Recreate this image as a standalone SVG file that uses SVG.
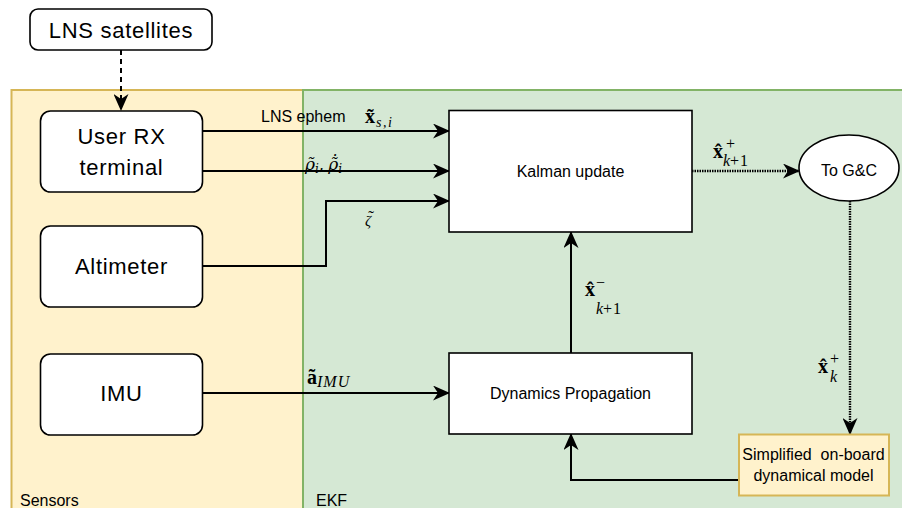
<svg xmlns="http://www.w3.org/2000/svg" width="902" height="508" viewBox="0 0 902 508">
<style>
.t{font-family:"Liberation Sans",Arial,sans-serif;fill:#000}
.big{font-size:22px;letter-spacing:0.7px;text-anchor:middle}
.sm{font-size:16px}
.c{text-anchor:middle}
.node{fill:#fff;stroke:#000;stroke-width:1.6}
.ln{fill:none;stroke:#000;stroke-width:2}
.dot{stroke-dasharray:1.5 1;stroke-width:2.4}
.m{font-family:"Liberation Serif","Times New Roman",serif;font-size:20px;fill:#000}
.dj{font-family:"DejaVu Serif",serif;font-size:17px;fill:#000}
.b{font-weight:bold}
.i{font-style:italic}
.s{font-size:16px}
.ss{font-size:14px}
</style>
<defs>
<marker id="arr" markerUnits="userSpaceOnUse" markerWidth="17" markerHeight="15" viewBox="0 0 17 15" refX="16" refY="7.5" orient="auto">
<path d="M0,0 L17,7.5 L0,15 L5,7.5 z" fill="#000"/>
</marker>
</defs>
<rect width="902" height="508" fill="#fff"/>
<g id="containers">
<g id="sensors">
<rect x="11.5" y="90" width="291.5" height="440" fill="#fff2cc" stroke="#d6b656" stroke-width="2"/>
<text class="t sm" x="20" y="506">Sensors</text>
</g>
<g id="ekf">
<rect x="303" y="90" width="620" height="440" fill="#d5e8d4" stroke="#82b366" stroke-width="2"/>
<text class="t sm" x="316" y="506">EKF</text>
</g>
</g>
<g id="connectors">
<path class="ln" d="M121,50 V110" stroke-dasharray="5 4" marker-end="url(#arr)"/>
<path class="ln" d="M202,131 H449" marker-end="url(#arr)"/>
<path class="ln" d="M202,171 H449" marker-end="url(#arr)"/>
<path class="ln" d="M202,266 H326 V201 H449" marker-end="url(#arr)"/>
<path class="ln" d="M202,393 H449" marker-end="url(#arr)"/>
<path class="ln" d="M571,353 V232" marker-end="url(#arr)"/>
<path class="ln dot" d="M692,171 H799" marker-end="url(#arr)"/>
<path class="ln dot" d="M850,201 V434" marker-end="url(#arr)"/>
<path class="ln" d="M739,480 H571 V434" marker-end="url(#arr)"/>
<text class="t sm" x="261" y="122">LNS ephem</text>
<text class="m" x="365" y="123"><tspan class="b">x̃</tspan><tspan class="i ss" dy="4" dx="1" letter-spacing="1.5">s,i</tspan></text>
<text class="dj" x="305" y="170"><tspan class="i">ρ̃</tspan><tspan class="i" font-size="12" dy="3">i</tspan><tspan dy="-3">,</tspan><tspan class="i" dx="4">ρ̃̇</tspan><tspan class="i" font-size="12" dy="3">i</tspan></text>
<text class="m"><tspan class="i" x="365" y="225.5" font-size="15">ζ</tspan><tspan x="368.2" y="222" font-size="17">˜</tspan></text>
<text class="m"><tspan class="b" x="713" y="158">x̂</tspan><tspan class="s" x="726" y="149">+</tspan><tspan class="s i" x="723" y="166">k</tspan><tspan class="s" letter-spacing="0.8">+1</tspan></text>
<text class="m"><tspan class="b" x="585" y="296">x̂</tspan><tspan class="s" x="596" y="288">−</tspan><tspan class="s i" x="596" y="314">k</tspan><tspan class="s" letter-spacing="0.8">+1</tspan></text>
<text class="m" x="307" y="384"><tspan class="b">ã</tspan><tspan class="i" font-size="16" dy="3" letter-spacing="1">IMU</tspan></text>
<text class="m"><tspan class="b" x="818" y="373">x̂</tspan><tspan class="s" x="830" y="364">+</tspan><tspan class="s i" x="830" y="382">k</tspan></text>
</g>
<g id="lns-satellites">
<rect class="node" x="30" y="9" width="182" height="41" rx="8"/>
<text class="t big" x="121" y="37.5">LNS satellites</text>
</g>
<g id="user-rx">
<rect class="node" x="40.5" y="111" width="162" height="81" rx="10"/>
<text class="t big" x="121.5" y="144">User RX</text>
<text class="t big" x="121.5" y="175">terminal</text>
</g>
<g id="altimeter">
<rect class="node" x="40.5" y="226" width="162" height="81" rx="10"/>
<text class="t big" x="121.5" y="273.5">Altimeter</text>
</g>
<g id="imu">
<rect class="node" x="40.5" y="354" width="162" height="81" rx="10"/>
<text class="t big" x="121.5" y="401">IMU</text>
</g>
<g id="kalman">
<rect class="node" x="449" y="110.5" width="243" height="121.5"/>
<text class="t sm c" x="570.5" y="176.5">Kalman update</text>
</g>
<g id="dynamics">
<rect class="node" x="449" y="353" width="243" height="81"/>
<text class="t sm c" x="570.5" y="399">Dynamics Propagation</text>
</g>
<g id="to-gc">
<ellipse class="node" cx="849" cy="168" rx="50" ry="33"/>
<text class="t sm c" x="849" y="175.5">To G&amp;C</text>
</g>
<g id="simplified">
<rect x="739" y="434.5" width="150" height="61" fill="#fff2cc" stroke="#d6b656" stroke-width="2"/>
<text class="t sm c" x="813.5" y="460">Simplified&#160; on-board</text>
<text class="t sm c" x="813.5" y="480.5">dynamical model</text>
</g>
</svg>
